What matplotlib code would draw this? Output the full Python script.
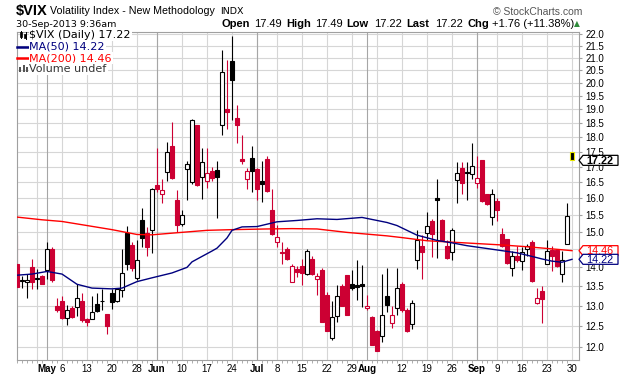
import matplotlib
matplotlib.use("Agg")
import matplotlib.pyplot as plt
from matplotlib import font_manager
from matplotlib.patches import Rectangle, Polygon
from matplotlib.lines import Line2D
from matplotlib.transforms import IdentityTransform
from matplotlib.ticker import FixedLocator, FixedFormatter, NullFormatter, NullLocator
import numpy as np

# $VIX daily bars, 23-Apr-2013 .. 30-Sep-2013 (one per trading day)
opens = [14.09, 13.63, 13.62, 14.00, 13.68, 13.78, 13.92, 14.52, 13.00, 13.13,
         12.69, 12.94, 12.97, 13.13, 12.66, 12.68, 13.05, 13.13, 12.80, 13.33,
         13.13, 13.40, 14.97, 14.63, 13.72, 15.35, 14.97, 15.05, 16.42, 16.13,
         16.85, 17.72, 15.95, 15.23, 16.93, 16.50, 18.43, 16.66, 16.55, 16.86,
         16.90, 18.43, 19.00, 20.86, 18.69, 17.25, 16.60, 17.30, 16.93, 16.56,
         17.28, 15.65, 14.70, 14.42, 14.50, 13.62, 13.95, 14.03, 13.82, 14.24,
         13.70, 13.94, 13.27, 12.21, 12.75, 13.50, 13.79, 13.57, 13.52, 13.57,
         12.93, 12.73, 12.37, 12.25, 13.24, 12.57, 12.95, 13.55, 12.90, 12.55,
         14.20, 14.60, 14.97, 15.30, 16.00, 15.33, 14.60, 14.41, 16.58, 16.97,
         16.85, 16.77, 16.48, 17.23, 16.12, 15.42, 15.92, 14.93, 14.80, 13.97,
         14.31, 14.17, 14.50, 14.71, 13.08, 13.37, 14.10, 14.47, 14.47, 13.83,
         14.66, 17.49]
highs = [14.90, 13.78, 13.82, 14.23, 13.95, 13.80, 14.71, 14.55, 13.20, 13.24,
         13.02, 13.00, 13.55, 13.33, 12.70, 13.24, 13.33, 13.43, 12.80, 13.43,
         13.45, 14.50, 15.17, 14.70, 14.75, 15.70, 15.15, 16.33, 17.62, 16.60,
         17.84, 18.55, 16.27, 15.65, 17.20, 18.65, 18.45, 17.65, 17.65, 17.00,
         17.20, 21.30, 20.90, 21.91, 19.18, 18.10, 16.97, 17.72, 16.97, 17.20,
         17.35, 16.30, 15.20, 14.70, 14.55, 14.10, 14.05, 14.22, 14.50, 14.30,
         13.86, 13.98, 13.35, 13.12, 13.53, 13.55, 13.80, 13.92, 14.20, 14.07,
         13.27, 12.75, 12.40, 13.83, 13.97, 13.00, 13.97, 13.60, 12.95, 13.15,
         15.06, 14.90, 15.57, 15.36, 16.60, 15.36, 14.77, 15.12, 17.15, 17.15,
         17.15, 17.82, 17.36, 17.23, 16.15, 16.30, 16.01, 15.10, 14.80, 14.44,
         14.60, 14.55, 14.65, 14.75, 13.44, 13.50, 14.75, 14.60, 14.50, 14.44,
         15.87, 17.49]
lows = [13.48, 13.45, 13.20, 13.43, 13.43, 13.55, 13.69, 13.62, 12.85, 12.68,
        12.52, 12.70, 12.75, 12.60, 12.50, 12.66, 12.84, 12.90, 12.30, 12.92,
        13.10, 13.23, 13.94, 13.90, 13.65, 14.55, 14.30, 14.40, 16.20, 15.85,
        16.55, 16.60, 15.00, 15.17, 15.96, 16.45, 16.40, 15.97, 16.33, 16.55,
        15.40, 18.10, 18.30, 18.60, 17.82, 17.10, 16.30, 16.20, 15.96, 15.89,
        16.20, 14.90, 14.55, 14.10, 14.20, 13.60, 13.75, 13.52, 13.80, 13.80,
        13.26, 12.60, 12.37, 12.16, 12.59, 12.98, 12.77, 13.39, 13.14, 12.97,
        12.90, 12.04, 11.90, 12.12, 12.84, 12.44, 12.76, 12.85, 12.35, 12.42,
        13.96, 13.68, 14.75, 14.28, 14.26, 14.75, 14.24, 14.20, 15.87, 16.13,
        15.96, 16.60, 16.33, 15.90, 15.80, 15.20, 15.30, 14.55, 14.10, 13.78,
        14.15, 13.92, 14.30, 13.60, 13.05, 12.56, 14.09, 13.90, 14.00, 13.62,
        14.64, 17.22]
closes = [13.48, 13.66, 13.67, 13.62, 13.71, 13.57, 14.52, 13.65, 12.88, 12.70,
          12.88, 12.72, 13.20, 12.64, 12.60, 12.84, 12.86, 13.12, 12.50, 13.09,
          13.43, 13.85, 14.10, 13.99, 14.20, 14.82, 14.55, 16.30, 16.29, 16.26,
          17.50, 16.64, 15.20, 15.50, 17.10, 18.60, 16.43, 17.17, 16.80, 16.64,
          16.66, 20.44, 18.90, 20.11, 18.45, 17.21, 16.87, 16.88, 16.30, 16.45,
          16.23, 14.93, 14.85, 14.40, 14.22, 14.05, 13.88, 13.84, 14.45, 13.82,
          13.78, 12.60, 12.37, 12.73, 13.24, 13.00, 12.78, 13.45, 13.47, 13.50,
          12.98, 12.05, 11.92, 12.78, 13.02, 12.78, 13.45, 12.90, 12.39, 13.07,
          14.77, 14.41, 15.17, 14.94, 15.95, 14.77, 14.26, 15.06, 16.79, 16.48,
          16.81, 17.02, 16.64, 15.92, 15.82, 16.12, 15.65, 14.58, 14.13, 14.31,
          14.20, 14.42, 14.60, 13.64, 13.20, 13.18, 14.45, 14.31, 14.04, 14.21,
          15.46, 17.22]
closeBefore = 14.39  # close of the bar just left of the chart (sets first bar colour)

# moving averages, read at a few bars along each line
ma50Idx = [0, 3, 6, 9, 12, 15, 19, 21, 24, 27, 31, 34, 35, 37, 39, 40, 42, 43, 45,
           48, 52, 56, 60, 64, 69, 72, 74, 76, 80, 84, 87, 90, 93, 97, 100, 103,
           105, 107, 109, 111]
ma50Val = [13.79, 13.82, 13.89, 13.82, 13.55, 13.45, 13.43, 13.45, 13.62, 13.72,
           13.85, 14.00, 14.15, 14.30, 14.45, 14.53, 14.82, 15.04, 15.14, 15.15,
           15.29, 15.33, 15.38, 15.36, 15.42, 15.33, 15.27, 15.18, 14.90, 14.75,
           14.68, 14.60, 14.54, 14.46, 14.40, 14.30, 14.23, 14.17, 14.14, 14.22]
ma200Idx = [0, 5, 9, 14, 19, 24, 27, 32, 38, 43, 50, 55, 60, 66, 70, 74, 77, 82,
            87, 92, 97, 102, 107, 111]
ma200Val = [15.43, 15.35, 15.30, 15.18, 15.06, 14.92, 14.91, 14.97, 15.04, 15.06,
            15.08, 15.09, 15.08, 14.98, 14.93, 14.88, 14.83, 14.74, 14.70, 14.66,
            14.62, 14.57, 14.51, 14.46]

# x axis: bar index of labelled days, week starts and month starts
tickIdx = [6, 9, 14, 19, 24, 28, 33, 38, 43, 48, 52, 57, 62, 67, 70, 77, 82, 87,
           92, 96, 101, 106, 111]
tickLabels = ["May", "6", "13", "20", "28", "Jun", "10", "17", "24", "Jul", "8",
              "15", "22", "29", "Aug", "12", "19", "26", "Sep", "9", "16", "23", "30"]
weekIdx = [4, 9, 14, 19, 24, 28, 33, 38, 43, 48, 52, 57, 62, 67, 72, 77, 82, 87,
           92, 96, 101, 106, 111]
monthIdx = [6, 28, 48, 70, 92]
monthNames = ["May", "Jun", "Jul", "Aug", "Sep"]

RED = "#cc0033"
NAVY = "#00007f"
MARED = "#ff0000"
W, H = 620.0, 376.0

try:
    font_manager.findfont("Liberation Sans Narrow", fallback_to_default=False)
    titleFamily, titleSize = "Liberation Sans Narrow", 9.2
except ValueError:
    titleFamily, titleSize = "Liberation Sans", 7.7


def fx(px):
    return px / W


def fy(py):
    return 1 - py / H


fig = plt.figure(figsize=(W / 100, H / 100), dpi=100)
ax = fig.add_axes([fx(16.7), fy(359.5), fx(579) - fx(16.7), fy(31.5) - fy(359.5)])
ax.set_yscale("log")
ax.set_xlim(-0.06, 112.4)
ax.set_ylim(11.715, 22.094)

# grid
for i in weekIdx:
    ax.axvline(i, color="#d6d6d6", lw=0.8, zorder=0.5)
for i in monthIdx:
    ax.axvline(i, color="#a6a6a6", lw=0.8, zorder=0.6)
yTicks = np.arange(12.0, 22.01, 0.5)
ax.yaxis.set_major_locator(FixedLocator(yTicks))
# the 14.5 label sits under the MA value tags
ax.yaxis.set_major_formatter(FixedFormatter(["" if abs(t - 14.5) < 1e-6 else "%.1f" % t
                                             for t in yTicks]))
ax.yaxis.set_minor_locator(NullLocator())
ax.yaxis.set_minor_formatter(NullFormatter())
ax.grid(axis="y", color="#d6d6d6", lw=0.8, zorder=0.4)
ax.set_axisbelow(True)

# candles
bodyWidth = 0.66
prev = closeBefore
for i, (o, h, l, c) in enumerate(zip(opens, highs, lows, closes)):
    col = RED if c < prev else "black"
    ax.vlines(i, l, h, color=col, lw=0.8, zorder=2)
    lo, hi = min(o, c), max(o, c)
    face = "white" if c > o else col
    edge = "#e8e800" if i == len(closes) - 1 else col
    ax.add_patch(Rectangle((i - bodyWidth / 2, lo), bodyWidth, hi - lo,
                           fc=face, ec=edge, lw=0.8, zorder=3))
    prev = c

ax.plot(ma200Idx, ma200Val, color=MARED, lw=1.0, zorder=4)
ax.plot(ma50Idx, ma50Val, color=NAVY, lw=1.0, zorder=4)

# axes styling
for s in ax.spines.values():
    s.set_color("#a0a0a0")
    s.set_linewidth(0.8)
ax.yaxis.tick_right()
ax.tick_params(axis="y", which="major", length=2, pad=2.5, labelsize=7,
               color="#a0a0a0", labelcolor="black")
ax.set_xticks(tickIdx)
ax.set_xticklabels(tickLabels)
ax.set_xticks(range(len(closes)), minor=True)
ax.tick_params(axis="x", which="major", length=0, pad=3, labelsize=7)
ax.tick_params(axis="x", which="minor", length=2, color="#a0a0a0")
for lab in ax.get_xticklabels() + ax.get_yticklabels():
    lab.set_family("Liberation Sans")
for lab in ax.get_xticklabels():
    if lab.get_text() in monthNames:
        lab.set_fontweight("bold")

# header
fig.text(fx(16), fy(15), "$VIX", fontsize=10.5, fontweight="bold",
         family="Liberation Sans", va="baseline")
fig.text(fx(49.5), fy(14.5), "Volatility Index - New Methodology", fontsize=titleSize,
         family=titleFamily, va="baseline")
fig.text(fx(220.5), fy(13.5), "INDX", fontsize=6.8, family="DejaVu Sans", va="baseline")
fig.text(fx(582), fy(15), "\u00a9 StockCharts.com", fontsize=7.5, color="#555555",
         ha="right", family="Liberation Sans", va="baseline")
fig.text(fx(16), fy(27.3), "30-Sep-2013 9:36am", fontsize=6.8, family="DejaVu Sans",
         va="baseline")
quote = [(221, "Open", True), (254, "17.49", False), (286, "High", True),
         (315.5, "17.49", False), (346, "Low", True), (374, "17.22", False),
         (406, "Last", True), (435, "17.22", False), (468, "Chg", True),
         (492, "+1.76 (+11.38%)", False)]
for px, txt, bold in quote:
    fig.text(fx(px), fy(27.3), txt, fontsize=8, fontweight="bold" if bold else "normal",
             family="Liberation Sans", va="baseline")
fig.text(fx(574), fy(26.5), "\u25b2", fontsize=5.5, color="#2e8b3a", family="DejaVu Sans",
         va="baseline")

# legend block in the top-left corner of the plot
legendRows = [("$VIX (Daily) 17.22", "black", 35.3), ("MA(50) 14.22", NAVY, 46.5),
              ("MA(200) 14.46", MARED, 58.2), ("Volume undef", "#333333", 69)]
for txt, col, py in legendRows:
    fig.text(fx(29.5), fy(py), txt, fontsize=8, color=col, family="DejaVu Sans", va="center",
             bbox=dict(fc="white", ec="none", pad=0.6))
for col, py in [(NAVY, 46.5), (MARED, 58.2)]:
    fig.add_artist(Line2D([fx(16.5), fx(28.5)], [fy(py), fy(py)], color=col, lw=1.8))
# little candle icon and volume icon
for x0, y0, h0 in [(20, 32.5, 4.5), (24.5, 33.5, 4)]:
    fig.add_artist(Line2D([fx(x0 + 1), fx(x0 + 1)], [fy(y0 - 1.2), fy(y0 + h0 + 1.2)],
                          color="black", lw=0.7))
    fig.add_artist(Rectangle((fx(x0), fy(y0 + h0)), fx(2), h0 / H, fc="black", ec="black",
                             lw=0.5, transform=fig.transFigure))
for x0, h0 in [(19.5, 4.5), (22.5, 7), (25.5, 5.5)]:
    fig.add_artist(Rectangle((fx(x0), fy(72)), fx(2), h0 / H, fc="#555555", ec="none",
                             transform=fig.transFigure))

# value tags on the right axis
fig.canvas.draw()
axRight = ax.transAxes.transform((1, 0))[0]


def tag(value, text, col, weight="normal"):
    yc = ax.transData.transform((0, value))[1]
    x0 = axRight
    verts = [(x0, yc), (x0 + 4, yc + 5), (x0 + 39, yc + 5), (x0 + 39, yc - 5), (x0 + 4, yc - 5)]
    fig.add_artist(Polygon(verts, closed=True, transform=IdentityTransform(),
                           fc="white", ec=col, lw=0.9, zorder=5))
    fig.text(x0 + 7, yc - 0.3, text, transform=IdentityTransform(), fontsize=7.8,
             fontweight=weight, color=col, family="Liberation Sans", va="center", zorder=6)


tag(closes[-1], "17.22", "black", "bold")
tag(ma200Val[-1], "14.46", MARED)
tag(ma50Val[-1], "14.22", NAVY)

fig.savefig("out.png", dpi=100)
